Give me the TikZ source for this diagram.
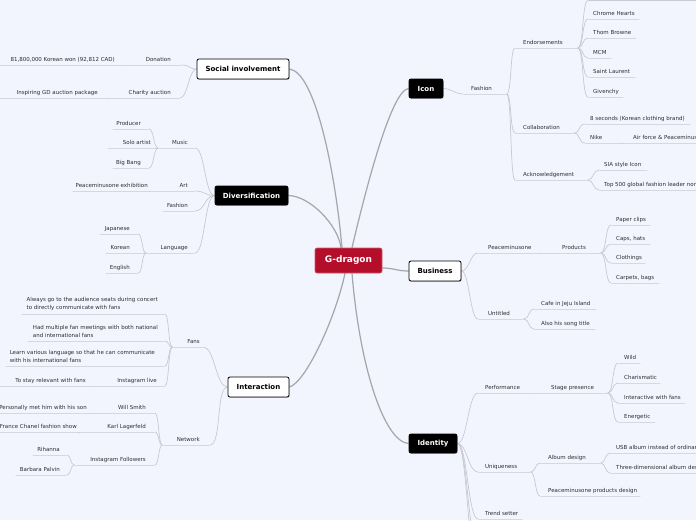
\documentclass[tikz,border=0pt]{standalone}
\usepackage{fontspec}
\setmainfont{DejaVu Sans}
\usetikzlibrary{shadows}
\pgfdeclarelayer{back}\pgfdeclarelayer{lines}
\pgfsetlayers{back,lines,main}
\definecolor{bgc}{RGB}{242,245,254}
\definecolor{gred}{RGB}{181,14,43}
\definecolor{lnc}{RGB}{200,201,210}
\definecolor{mlc}{RGB}{165,165,170}
\definecolor{txc}{RGB}{45,45,50}
\tikzset{
 ul/.style={draw=lnc, line width=.7pt, minimum height=0pt, inner sep=0pt, anchor=west, shape=rectangle},
 lbl/.style={font=\fontsize{5.5}{6.6}\selectfont, text=txc, inner sep=0pt},
 conn/.style={draw=lnc, line width=.7pt},
 mconn/.style={draw=mlc, line width=1.2pt},
 box/.style={rounded corners=2pt, line width=.8pt, draw=black, font=\bfseries\fontsize{7}{8}\selectfont, inner sep=0pt, minimum height=19pt, drop shadow={shadow xshift=.6pt, shadow yshift=-.9pt, opacity=.45}},
 wbox/.style={box, fill=white, text=black},
 bbox/.style={box, fill=black, text=white},
 gbox/.style={rounded corners=2pt, fill=gred, draw=gred!70!white, line width=.6pt, text=white, font=\bfseries\fontsize{9}{10}\selectfont, minimum width=67pt, minimum height=25pt, inner sep=0pt},
 multi/.style={anchor=south east, yshift=-1.2pt, align=left, font=\fontsize{5.5}{8}\selectfont},
}
\newcommand\tR[7][]{\node[ul,minimum width={#4-#3},label={[lbl,anchor=base west,xshift={#6-#3},yshift=4pt,#1]west:{#7}}] (#2) at (#3,#5) {};}
\newcommand\tL[7][]{\node[ul,minimum width={#4-#3},anchor=east,label={[lbl,anchor=base east,xshift={#6-#4},yshift=4pt,#1]east:{#7}}] (#2) at (#4,#5) {};}
\newcommand\cnR[3]{\draw[conn] (#1) .. controls +(#3,0) and +(-#3,0) .. (#2);}
\newcommand\cnL[3]{\draw[conn] (#1) .. controls +(-#3,0) and +(#3,0) .. (#2);}
\begin{document}
\begin{tikzpicture}[x=1pt,y=-1pt]
\useasboundingbox (0,0) rectangle (696,520);
\clip (0,0) rectangle (696,520);
\begin{pgfonlayer}{back}
\fill[bgc] (0,0) rectangle (696,520);
\end{pgfonlayer}

% main boxes
\node[gbox] (g) at (348.5,260.5) {G-dragon};
\node[bbox, minimum width=34pt] (icon) at (426,88.5) {Icon};
\node[wbox, minimum width=92pt, minimum height=20pt] (soc) at (243,69) {Social involvement};
\node[bbox, minimum width=73pt] (div) at (251.5,195.5) {Diversification};
\node[wbox, minimum width=52pt, minimum height=20pt] (bus) at (435,271) {Business};
\node[wbox, minimum width=61pt, minimum height=20pt] (inter) at (258.5,387) {Interaction};
\node[bbox, minimum width=48pt] (ident) at (433,443.5) {Identity};

% Icon subtree
\tR{fashI}{463}{506}{94}{471}{Fashion}
\tR{endo}{515}{577}{48}{523}{Endorsements}
\tR{collab}{515}{573}{133}{523}{Collaboration}
\tR{ackn}{515}{587}{180}{523}{Acknowledgement}
\tR{e0}{588}{700}{0.5}{593}{}
\tR{chrome}{588}{639}{19}{593}{Chrome Hearts}
\tR{thom}{588}{636}{38}{593}{Thom Browne}
\tR{mcm}{588}{611}{58}{593}{MCM}
\tR{saint}{588}{635}{77}{593}{Saint Laurent}
\tR{giv}{588}{623}{97}{593}{Givenchy}
\tR{eight}{585}{690}{124}{590}{8 seconds (Korean clothing brand)}
\tR{nike}{585}{622}{143}{590}{Nike}
\tR{air}{622}{760}{143}{633}{Air force \& Peaceminusone}
\tR{sia}{599}{647}{170}{604}{SIA style Icon}
\tR{top}{599}{760}{190}{604}{Top 500 global fashion leader nominee}

% Business subtree
\tR{peace}{478}{540}{253}{488}{Peaceminusone}
\tR{prod}{540}{600}{253}{562}{Products}
\tR{clips}{611}{650}{225}{616}{Paper clips}
\tR{caps}{611}{650}{244}{616}{Caps, hats}
\tR{cloth}{611}{645}{263}{616}{Clothings}
\tR{carp}{611}{659}{283}{616}{Carpets, bags}
\tR{untl}{478}{523}{319}{488}{Untitled}
\tR{cafe}{534}{596}{309}{541}{Cafe in Jeju Island}
\tR{song}{534}{595}{329}{541}{Also his song title}

% Identity subtree
\tR{perf}{478}{530}{393}{485}{Performance}
\tR{stage}{530}{607}{393}{551}{Stage presence}
\tR{wild}{618}{640}{363}{624}{Wild}
\tR{charis}{618}{660}{383}{624}{Charismatic}
\tR{intf}{618}{685}{403}{624}{Interactive with fans}
\tR{ener}{618}{655}{422}{624}{Energetic}
\tR{uniq}{478}{530}{472}{485}{Uniqueness}
\tR{album}{540}{600}{463}{548}{Album design}
\tR{pprod}{540}{640}{496}{548}{Peaceminusone products design}
\tR{usb}{610}{760}{453}{616}{USB album instead of ordinary album}
\tR{three}{610}{760}{473}{616}{Three-dimensional album design}
\tR{trend}{478}{522}{519}{485}{Trend setter}
\tR{idx}{478}{540}{545}{485}{}
\tR{idy}{478}{540}{570}{485}{}

% Social involvement subtree
\tL{don}{122}{182}{65}{171}{Donation}
\tL{won}{0}{122}{65}{115}{81,800,000 Korean won (92,812 CAD)}
\tL{charity}{108}{180}{98}{171}{Charity auction}
\tL{pkg}{0}{108}{98}{98}{Inspiring GD auction package}

% Diversification subtree
\tL{music}{159}{195}{148}{188}{Music}
\tL{prdr}{113}{149}{129}{141}{Producer}
\tL{solo}{108}{155}{148}{151}{Solo artist}
\tL{bigb}{113}{149}{168}{141}{Big Bang}
\tL{art}{150}{195}{191}{188}{Art}
\tL{exhib}{73}{150}{191}{148}{Peaceminusone exhibition}
\tL{fashD}{163}{195}{211}{188}{Fashion}
\tL{lang}{147}{195}{253}{188}{Language}
\tL{jap}{100}{138}{234}{130}{Japanese}
\tL{kor}{106}{143}{253}{130}{Korean}
\tL{eng}{106}{138}{273}{130}{English}

% Interaction subtree
\tL{fans}{173}{203}{347}{200}{Fans}
\tL[multi]{fc1}{22}{165}{314}{158}{Always go to the audience seats during concert\\to directly communicate with fans}
\tL[multi]{fc2}{28}{165}{341}{158}{Had multiple fan meetings with both national\\and international fans}
\tL[multi]{fc3}{6}{165}{366}{155}{Learn various language so that he can communicate\\with his international fans}
\tL{live}{95}{165}{386}{157}{Instagram live}
\tL{relev}{0}{95}{386}{86}{To stay relevant with fans}
\tL{net}{163}{210}{445}{200}{Network}
\tL{will}{90}{155}{413}{146}{Will Smith}
\tL{met}{0}{90}{413}{87}{Personally met him with his son}
\tL{karl}{80}{155}{432}{146}{Karl Lagerfeld}
\tL{chan}{0}{80}{432}{77}{France Chanel fashion show}
\tL{igf}{75}{155}{465}{146}{Instagram Followers}
\tL{rih}{33}{67}{455}{60}{Rihanna}
\tL{barb}{16}{67}{475}{60}{Barbara Palvin}

\begin{pgfonlayer}{lines}
% main connectors
\draw[mconn] ([xshift=-6.5pt]g.north) .. controls (335,170) and (315,72) .. (soc.east);
\draw[mconn] ([xshift=3.5pt]g.north) .. controls (368,180) and (392,90) .. (icon.west);
\draw[mconn] ([xshift=-7.5pt]g.north) .. controls (338,225) and (310,196) .. (div.east);
\draw[mconn] ([yshift=-7.5pt]g.east) .. controls +(12,0) and +(-12,0) .. (bus.west);
\draw[mconn] ([xshift=-3.5pt]g.south) .. controls (335,320) and (305,383) .. (inter.east);
\draw[mconn] ([xshift=3.5pt]g.south) .. controls (360,370) and (385,442) .. (ident.west);
% Icon
\cnR{icon.east}{fashI.west}{8}
\cnR{fashI.east}{endo.west}{5}
\cnR{fashI.east}{collab.west}{5}
\cnR{fashI.east}{ackn.west}{5}
\foreach \n in {e0,chrome,thom,mcm,saint,giv} {\cnR{endo.east}{\n.west}{6}}
\cnR{collab.east}{eight.west}{7}
\cnR{collab.east}{nike.west}{7}
\draw[conn] (nike.east) -- (air.west);
\cnR{ackn.east}{sia.west}{6}
\cnR{ackn.east}{top.west}{6}
% Business
\cnR{bus.east}{peace.west}{8}
\cnR{bus.east}{untl.west}{8}
\draw[conn] (peace.east) -- (prod.west);
\foreach \n in {clips,caps,cloth,carp} {\cnR{prod.east}{\n.west}{6}}
\cnR{untl.east}{cafe.west}{6}
\cnR{untl.east}{song.west}{6}
% Identity
\foreach \n in {perf,uniq,trend,idx,idy} {\cnR{ident.east}{\n.west}{10}}
\draw[conn] (perf.east) -- (stage.west);
\foreach \n in {wild,charis,intf,ener} {\cnR{stage.east}{\n.west}{6}}
\cnR{uniq.east}{album.west}{5}
\cnR{uniq.east}{pprod.west}{5}
\cnR{album.east}{usb.west}{5}
\cnR{album.east}{three.west}{5}
% Social
\cnL{soc.west}{don.east}{8}
\cnL{soc.west}{charity.east}{8}
\draw[conn] (don.west) -- (won.east);
\draw[conn] (charity.west) -- (pkg.east);
% Diversification
\foreach \n in {music,art,fashD,lang} {\cnL{div.west}{\n.east}{10}}
\foreach \n in {prdr,solo,bigb} {\cnL{music.west}{\n.east}{5}}
\draw[conn] (art.west) -- (exhib.east);
\foreach \n in {jap,kor,eng} {\cnL{lang.west}{\n.east}{5}}
% Interaction
\cnL{inter.west}{fans.east}{12}
\cnL{inter.west}{net.east}{12}
\foreach \n in {fc1,fc2,fc3,live} {\cnL{fans.west}{\n.east}{4}}
\draw[conn] (live.west) -- (relev.east);
\foreach \n in {will,karl,igf} {\cnL{net.west}{\n.east}{4}}
\draw[conn] (will.west) -- (met.east);
\draw[conn] (karl.west) -- (chan.east);
\cnL{igf.west}{rih.east}{4}
\cnL{igf.west}{barb.east}{4}
\end{pgfonlayer}
\end{tikzpicture}
\end{document}
